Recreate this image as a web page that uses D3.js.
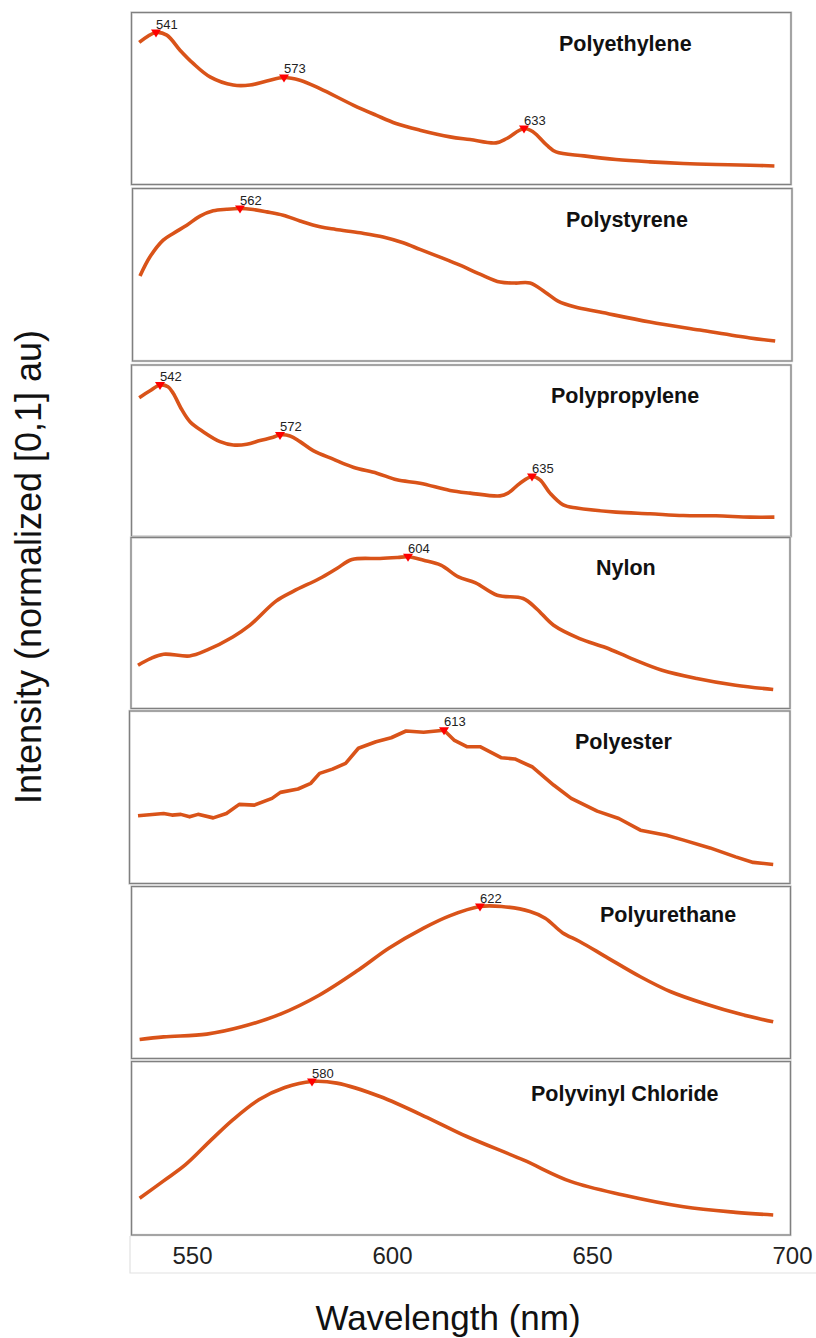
<!DOCTYPE html>
<html>
<head>
<meta charset="utf-8">
<script src="https://cdn.jsdelivr.net/npm/d3@7"></script>
<style>
  html, body { margin: 0; padding: 0; background: #fff; }
  svg { display: block; font-family: "Liberation Sans", Arial, Helvetica, sans-serif; }
</style>
</head>
<body>
<svg id="chart" width="816" height="1338"></svg>
<script>
// ---------------- DATA ----------------
const panelTitles = ["Polyethylene", "Polystyrene", "Polypropylene", "Nylon", "Polyester", "Polyurethane", "Polyvinyl Chloride"];
const xTickValues = [550, 600, 650, 700];
const xAxisTitle = "Wavelength (nm)";
const yAxisTitle = "Intensity (normalized [0,1] au)";

// [wavelength nm, normalized intensity]
const polyethylene = [[536.8,0.932],[541,1.0],[543.7,0.982],[547,0.879],[550.3,0.788],[554.5,0.696],[560.3,0.640],[564.5,0.640],[568.7,0.668],[573,0.692],[577,0.673],[582,0.616],[590.3,0.503],[596,0.434],[601,0.377],[607,0.331],[614.5,0.285],[619.5,0.267],[626,0.244],[628.7,0.274],[633,0.342],[635.3,0.319],[638.7,0.228],[641,0.182],[648,0.155],[656,0.130],[664.5,0.114],[672.8,0.103],[681,0.096],[689.5,0.091],[695.6,0.086]];
const polyethylenePeaks = [541, 573, 633];

const polystyrene = [[537,0.539],[539.5,0.670],[542.8,0.784],[545.3,0.830],[548.7,0.886],[552,0.948],[555.3,0.984],[558.7,0.995],[562,1.0],[565.3,0.993],[568.7,0.977],[572.8,0.954],[577,0.915],[582,0.875],[586,0.857],[592,0.834],[597.8,0.806],[602.8,0.766],[607,0.721],[612,0.668],[617,0.613],[622,0.552],[627,0.498],[630.8,0.491],[634.5,0.491],[638.3,0.429],[641.5,0.368],[645.8,0.327],[652,0.293],[664.5,0.225],[677,0.170],[689.5,0.116],[695.8,0.095]];
const polystyrenePeaks = [562];

const polypropylene = [[536.8,0.913],[539.5,0.961],[542,1.0],[544,0.988],[545.3,0.943],[547.4,0.833],[549.5,0.748],[552.8,0.679],[557,0.611],[560.3,0.588],[563.7,0.593],[567,0.618],[570.3,0.641],[572,0.657],[574.5,0.650],[577,0.611],[580.3,0.549],[585.3,0.490],[590.3,0.435],[596.2,0.394],[601.2,0.348],[607,0.325],[614.5,0.275],[619.5,0.257],[627,0.238],[629,0.257],[632,0.325],[635,0.371],[637,0.348],[639.5,0.257],[642.8,0.176],[646.2,0.154],[656,0.126],[664.5,0.115],[672.8,0.103],[681,0.101],[689.5,0.092],[695.6,0.092]];
const polypropylenePeaks = [542, 572, 635];

const nylon = [[536.5,0.257],[539.6,0.303],[542.9,0.333],[549.4,0.321],[553.7,0.361],[560.2,0.452],[564.5,0.533],[571,0.699],[575.4,0.768],[581.9,0.855],[586.2,0.924],[590,0.986],[597,0.993],[601.4,1.0],[604,1.005],[607.9,0.981],[612.2,0.947],[616.6,0.866],[620.9,0.825],[626.3,0.740],[632.8,0.717],[636.1,0.648],[640.4,0.533],[646.9,0.441],[653.4,0.379],[659.9,0.303],[667.5,0.223],[676.2,0.166],[685.9,0.119],[695.3,0.090]];
const nylonPeaks = [604];

const polyester = [[536.5,0.421],[542.9,0.437],[545,0.426],[547.2,0.431],[549.4,0.414],[551.5,0.431],[555.3,0.407],[558.6,0.437],[561.8,0.499],[565.6,0.494],[570,0.540],[572.1,0.581],[576.5,0.604],[579.7,0.643],[581.9,0.711],[585.1,0.740],[588.4,0.779],[591.6,0.882],[596,0.927],[599.8,0.954],[603.5,1.0],[607.9,0.991],[613,1.005],[615.5,0.938],[618.7,0.893],[622,0.893],[627.4,0.817],[630.7,0.809],[635,0.756],[640.4,0.631],[644.8,0.540],[651.3,0.453],[656.7,0.403],[662.1,0.323],[668.6,0.289],[672.9,0.255],[679.5,0.202],[685.9,0.141],[690.3,0.103],[695.3,0.089]];
const polyesterPeaks = [613];

const polyurethane = [[536.9,0.089],[542.9,0.107],[553.7,0.126],[562.4,0.176],[572.1,0.263],[581.9,0.394],[591.6,0.565],[599.2,0.714],[607.9,0.852],[614.4,0.936],[622,1.0],[627.4,1.0],[634.5,0.966],[638.3,0.920],[642.6,0.821],[646.9,0.760],[653.4,0.657],[662.1,0.519],[669.7,0.416],[678.4,0.332],[687,0.263],[695.3,0.210]];
const polyurethanePeaks = [622];

const pvc = [[536.9,0.208],[542.9,0.326],[548.3,0.434],[554.8,0.604],[560.2,0.740],[566.7,0.876],[573.2,0.959],[580,1.0],[586.2,0.989],[597,0.898],[610,0.740],[618.7,0.627],[632.8,0.468],[644.8,0.321],[657.8,0.231],[672.9,0.151],[685.9,0.113],[695.3,0.095]];
const pvcPeaks = [580];

const seriesList = [polyethylene, polystyrene, polypropylene, nylon, polyester, polyurethane, pvc];
const peaksList = [polyethylenePeaks, polystyrenePeaks, polypropylenePeaks, nylonPeaks, polyesterPeaks, polyurethanePeaks, pvcPeaks];

// ---------------- LAYOUT ----------------
const panelBoxes = [
  {x0:131.5, x1:791, y0:12.5, y1:184.5, tx:559, ty:51},
  {x0:132.5, x1:792, y0:188.5, y1:361, tx:566, ty:227},
  {x0:131.5, x1:791, y0:365, y1:536.5, tx:551, ty:403},
  {x0:131, x1:790, y0:537.5, y1:708.5, tx:596, ty:575},
  {x0:129.5, x1:790, y0:711, y1:883.5, tx:575, ty:749},
  {x0:131.5, x1:790.5, y0:886.5, y1:1058.5, tx:600, ty:922},
  {x0:131.5, x1:790.5, y0:1061.5, y1:1235, tx:531, ty:1101}
];
const lineColor = "#D95319";
const markerColor = "#FF0000";

const svg = d3.select("#chart");
const x = d3.scaleLinear().domain([550, 700]).range([192, 792]);

// bottom axis frame (light)
svg.append("path")
  .attr("d", "M130,1236 V1273 H816")
  .attr("fill", "none").attr("stroke", "#e2e2e2").attr("stroke-width", 1.2);

panelBoxes.forEach((b, i) => {
  const g = svg.append("g");
  g.append("rect")
    .attr("x", b.x0).attr("y", b.y0)
    .attr("width", b.x1 - b.x0).attr("height", b.y1 - b.y0)
    .attr("fill", "#fff").attr("stroke", "#d0d0d0").attr("stroke-width", 2.4);
  g.append("rect")
    .attr("x", b.x0).attr("y", b.y0)
    .attr("width", b.x1 - b.x0).attr("height", b.y1 - b.y0)
    .attr("fill", "none").attr("stroke", "#808080").attr("stroke-width", 1.1);

  const y = d3.scaleLinear().domain([0, 1]).range([b.y1 - 6, b.y0 + 20]);
  const curve = (i === 4) ? d3.curveLinear : d3.curveCatmullRom.alpha(0.5);
  const line = d3.line().x(d => x(d[0])).y(d => y(d[1])).curve(curve);

  g.append("path").datum(seriesList[i])
    .attr("d", line)
    .attr("fill", "none").attr("stroke", lineColor)
    .attr("stroke-width", 3.6).attr("stroke-linejoin", "round").attr("stroke-linecap", "butt");

  peaksList[i].forEach(p => {
    const pt = seriesList[i].find(d => d[0] === p);
    const px = x(pt[0]), py = y(pt[1]);
    g.append("path")
      .attr("d", `M${px-5},${py-3} L${px+5},${py-3} L${px},${py+5} Z`)
      .attr("fill", markerColor);
    g.append("text")
      .attr("x", px).attr("y", py - 4)
      .attr("font-size", 13).attr("fill", "#222")
      .text(p);
  });

  g.append("text")
    .attr("x", b.tx).attr("y", b.ty)
    .attr("font-size", 21.5).attr("font-weight", "bold").attr("fill", "#111")
    .text(panelTitles[i]);
});

// x axis tick labels
const axis = d3.axisBottom(x).tickValues(xTickValues).tickSize(0).tickPadding(0).tickFormat(d3.format("d"));
const axG = svg.append("g").attr("transform", "translate(0,1247)").call(axis);
axG.select(".domain").remove();
axG.selectAll("text")
  .attr("font-size", 24).attr("fill", "#222")
  .attr("font-family", "'Liberation Sans', Arial, sans-serif")
  .attr("dy", "0.72em");

// axis titles
svg.append("text")
  .attr("x", 448).attr("y", 1330)
  .attr("text-anchor", "middle")
  .attr("font-size", 35).attr("fill", "#111")
  .text(xAxisTitle);

svg.append("text")
  .attr("transform", "translate(41,567) rotate(-90)")
  .attr("text-anchor", "middle")
  .attr("font-size", 36).attr("fill", "#111")
  .text(yAxisTitle);
</script>
</body>
</html>
